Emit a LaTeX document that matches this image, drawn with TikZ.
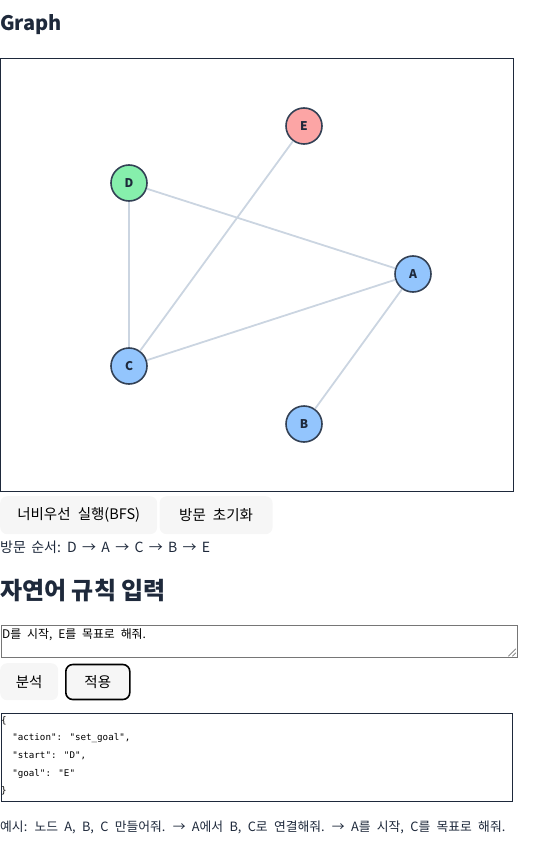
\documentclass[tikz,border=0pt]{standalone}
\usepackage{fontspec}
\setmainfont{Noto Sans CJK KR}
\newfontfamily\uifont[WordSpace=1.3]{Noto Sans CJK KR}
\newfontfamily\gulimfont[WordSpace=2.2]{Noto Sans CJK KR}
\newfontfamily\jsonfont{DejaVu Sans Mono}
\newcommand\ordertext{\fontsize{14}{14}\selectfont\spaceskip 5.3pt\relax}
\usepackage{tikz}
\usetikzlibrary{positioning,calc}

\definecolor{ink}{HTML}{1E293B}
\definecolor{rim}{HTML}{334155}
\definecolor{linkgray}{HTML}{CBD5E1}
\definecolor{nodeblue}{HTML}{93C5FD}
\definecolor{nodegreen}{HTML}{86EFAC}
\definecolor{nodered}{HTML}{FCA5A5}
\definecolor{btngray}{HTML}{F6F6F6}
\definecolor{areagray}{HTML}{767676}

\tikzset{
    vertex/.style={circle, draw=rim, line width=1.6pt, minimum size=36pt, inner sep=0pt,
        font=\fontsize{12}{12}\selectfont\bfseries, text=ink},
    link/.style={draw=linkgray, line width=1.8pt},
    btn/.style={rounded corners=7pt, fill=btngray, inner sep=0pt, anchor=north west,
        font=\uifont\fontsize{14.5}{14.5}\selectfont, text=black},
    plain/.style={inner sep=0pt, anchor=base west, text=ink}
}

\begin{document}
\begin{tikzpicture}[x=1pt,y=-1pt]
    \useasboundingbox (0,0) rectangle (558,842);
    % title and canvas
    \node[plain, font=\fontsize{20}{20}\selectfont\bfseries] (title) at (0,31) {Graph};
    \draw[ink, line width=1pt] (0.5,58.5) rectangle (513,491);
    % graph vertices
    \node[vertex, fill=nodered] (E) at (304,126) {E};
    \node[vertex, fill=nodegreen] (D) at (129,183) {D};
    \node[vertex, fill=nodeblue] (A) at (413,274) {A};
    \node[vertex, fill=nodeblue] (C) at (129,366) {C};
    \node[vertex, fill=nodeblue] (B) at (304,424) {B};
    % graph edges
    \foreach \u/\v in {D/A, D/C, E/C, C/A, A/B}
    {
        \draw[link] (\u) -- (\v);
    }
    % buttons under the canvas
    \node[btn, minimum width=157pt, minimum height=38pt] (bfs) at (0,496) {너비우선 실행(BFS)};
    \node[btn, minimum width=113pt, minimum height=38pt, right=2pt of bfs.north east, anchor=north west] (reset) {방문 초기화};
    \node[plain, font=\ordertext] (order) at (0,552) {방문 순서: D → A → C → B → E};
    % rule input section
    \node[plain, font=\fontsize{24}{24}\selectfont\bfseries] (heading) at (0,599) {자연어 규칙 입력};
    \node[draw=areagray, line width=0.8pt, minimum width=516pt, minimum height=32pt, inner sep=0pt, anchor=north west] (area) at (0.5,625) {};
    \node[inner sep=0pt, anchor=base west, font=\gulimfont\fontsize{11.9}{11.9}\selectfont, text=black] (prompt) at (2,638) {D를 시작, E를 목표로 해줘.};
    \draw[areagray, line width=0.6pt] ($(area.south east)+(-9,-1.5)$) -- ($(area.south east)+(-1.5,-9)$);
    \draw[areagray, line width=0.6pt] ($(area.south east)+(-5,-1.5)$) -- ($(area.south east)+(-1.5,-5)$);
    \node[btn, minimum width=58pt, minimum height=37pt] (parse) at (0,663) {분석};
    \node[btn, draw=black, line width=1.6pt, minimum width=64pt, minimum height=35pt, anchor=west] (apply) at (65,682) {적용};
    % json output
    \node[draw=ink, line width=1pt, minimum width=511pt, minimum height=88pt, inner sep=0pt, anchor=north west] (out) at (0.5,713) {};
    \node[inner sep=0pt, anchor=north west, align=left, text=black,
        font=\jsonfont\fontsize{9.2}{17.6}\selectfont] (json) at (1,716)
        {\{\\
        \ \ "action": "set\_goal",\\
        \ \ "start": "D",\\
        \ \ "goal": "E"\\
        \}};
    % example line
    \node[plain, font=\gulimfont\fontsize{12.8}{12.8}\selectfont] (hint) at (0,831) {예시: 노드 A, B, C 만들어줘. → A에서 B, C로 연결해줘. → A를 시작, C를 목표로 해줘.};
\end{tikzpicture}
\end{document}
